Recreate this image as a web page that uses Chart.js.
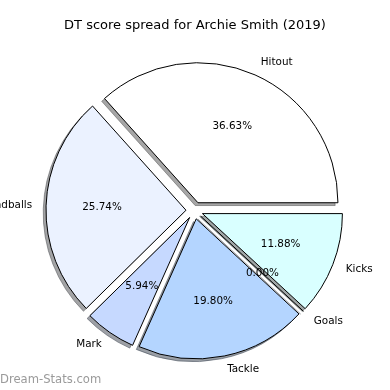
<!DOCTYPE html>
<html>
<head>
<meta charset="utf-8">
<script src="https://cdn.jsdelivr.net/npm/chart.js@4"></script>
<style>
  html, body { margin: 0; padding: 0; background: #fff; }
  #wrap { width: 390px; height: 390px; position: relative; }
</style>
</head>
<body>
<div id="wrap"><canvas id="pie"></canvas></div>
<script>
// data, in the order matplotlib draws it (counter-clockwise from 3 o'clock)
const categories = ['Hitout', 'Handballs', 'Mark', 'Tackle', 'Goals', 'Kicks'];
const dtScores = [37, 26, 6, 20, 0, 12];
const sliceColors = ['#ffffff', '#ebf2ff', '#c6d9ff', '#b4d5ff', '#cfe0ff', '#d9ffff'];

const chartTitle = 'DT score spread for Archie Smith (2019)';
const watermark = 'Dream-Stats.com';

const total = dtScores.reduce((a, b) => a + b, 0);
const explodePx = 8.5;
const shadowDx = -2.8, shadowDy = 2.8;
const FONT = '"DejaVu Sans", sans-serif';

function shadowOf(hex) {
    const n = parseInt(hex.slice(1), 16);
    const r = Math.round(((n >> 16) & 255) * 0.3);
    const g = Math.round(((n >> 8) & 255) * 0.3);
    const b = Math.round((n & 255) * 0.3);
    return `rgba(${r},${g},${b},0.5)`;
}

// Chart.js goes clockwise, so feed it reversed
const cjLabels = categories.slice().reverse();
const cjData = dtScores.slice().reverse();
const cjColors = sliceColors.slice().reverse();

const piePlugin = {
    id: 'piePlugin',
    beforeDatasetsDraw(chart) {
        const ctx = chart.ctx;
        const arcs = chart.getDatasetMeta(0).data;

        // 1. shadows under everything
        arcs.forEach((arc, i) => {
            const mid = (arc.startAngle + arc.endAngle) / 2;
            const sc = shadowOf(cjColors[i]);
            ctx.save();
            ctx.translate(Math.cos(mid) * explodePx + shadowDx, Math.sin(mid) * explodePx + shadowDy);
            if (arc.circumference === 0) {
                ctx.strokeStyle = sc;
                ctx.lineWidth = 1;
                ctx.beginPath();
                ctx.moveTo(arc.x, arc.y);
                ctx.lineTo(arc.x + Math.cos(mid) * arc.outerRadius, arc.y + Math.sin(mid) * arc.outerRadius);
                ctx.stroke();
            } else {
                const sh = Object.create(arc);
                sh.options = Object.assign({}, arc.options, { backgroundColor: sc, borderColor: sc });
                sh.draw(ctx);
            }
            ctx.restore();
        });

        // 2. exploded wedges
        arcs.forEach((arc) => {
            const mid = (arc.startAngle + arc.endAngle) / 2;
            ctx.save();
            ctx.translate(Math.cos(mid) * explodePx, Math.sin(mid) * explodePx);
            if (arc.circumference === 0) {
                ctx.strokeStyle = '#000';
                ctx.lineWidth = 1;
                ctx.beginPath();
                ctx.moveTo(arc.x, arc.y);
                ctx.lineTo(arc.x + Math.cos(mid) * arc.outerRadius, arc.y + Math.sin(mid) * arc.outerRadius);
                ctx.stroke();
            } else {
                arc.draw(ctx);
            }
            ctx.restore();
        });
        return false;
    },
    afterDraw(chart) {
        const ctx = chart.ctx;
        const arcs = chart.getDatasetMeta(0).data;
        ctx.save();
        ctx.fillStyle = '#000';
        ctx.textBaseline = 'middle';

        arcs.forEach((arc, i) => {
            const mid = (arc.startAngle + arc.endAngle) / 2;
            const c = Math.cos(mid), s = Math.sin(mid);
            const R = arc.outerRadius;

            ctx.font = '10.4px ' + FONT;
            ctx.textAlign = c > 0 ? 'left' : 'right';
            const lr = explodePx + 1.1 * R;
            ctx.fillText(cjLabels[i], arc.x + c * lr, arc.y + s * lr);

            ctx.textAlign = 'center';
            const pr = explodePx + 0.6 * R;
            const pct = (cjData[i] / total * 100).toFixed(2) + '%';
            ctx.fillText(pct, arc.x + c * pr, arc.y + s * pr);
        });

        // title
        ctx.font = '13px ' + FONT;
        ctx.textAlign = 'center';
        ctx.fillText(chartTitle, 195, 26);

        // watermark
        ctx.font = '11.6px ' + FONT;
        ctx.textAlign = 'left';
        ctx.fillStyle = '#9a9a9a';
        ctx.fillText(watermark, 0, 380);
        ctx.restore();
    }
};

new Chart(document.getElementById('pie'), {
    type: 'pie',
    data: {
        labels: cjLabels,
        datasets: [{
            data: cjData,
            backgroundColor: cjColors,
            borderColor: '#000',
            borderWidth: 1,
            borderJoinStyle: 'miter',
            offset: 0
        }]
    },
    options: {
        responsive: true,
        maintainAspectRatio: false,
        animation: false,
        events: [],
        rotation: 90,
        layout: { padding: { left: 54, right: 55, top: 70, bottom: 39 } },
        plugins: {
            legend: { display: false },
            title: { display: false },
            tooltip: { enabled: false }
        }
    },
    plugins: [piePlugin]
});
</script>
</body>
</html>
